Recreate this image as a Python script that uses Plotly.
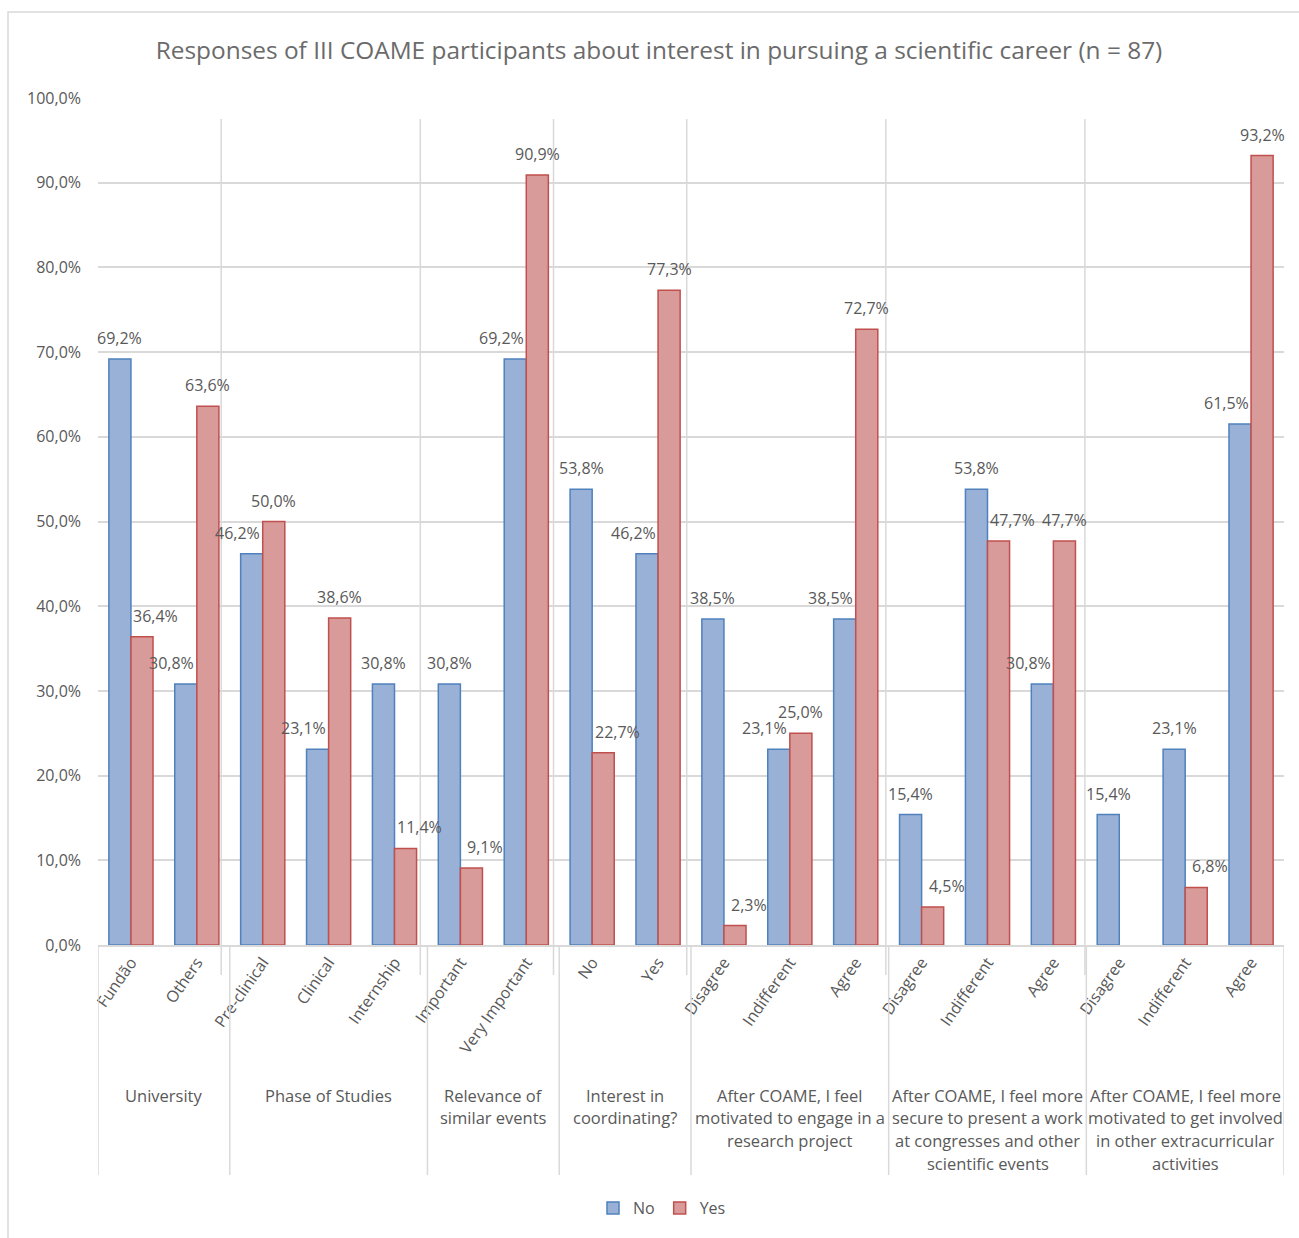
import plotly.graph_objects as go

# ---- data -------------------------------------------------------------
groups = [
    "University",
    "Phase of Studies",
    "Relevance of\nsimilar events",
    "Interest in\ncoordinating?",
    "After COAME, I feel\nmotivated to engage in a\nresearch project",
    "After COAME, I feel more\nsecure to present a work\nat congresses and other\nscientific events",
    "After COAME, I feel more\nmotivated to get involved\nin other extracurricular\nactivities",
]
group_items = [
    ["Fundão", "Others"],
    ["Pre-clinical", "Clinical", "Internship"],
    ["Important", "Very Important"],
    ["No", "Yes"],
    ["Disagree", "Indifferent", "Agree"],
    ["Disagree", "Indifferent", "Agree"],
    ["Disagree", "Indifferent", "Agree"],
]
no_values = [69.2, 30.8, 46.2, 23.1, 30.8, 30.8, 69.2, 53.8, 46.2,
             38.5, 23.1, 38.5, 15.4, 53.8, 30.8, 15.4, 23.1, 61.5]
yes_values = [36.4, 63.6, 50.0, 38.6, 11.4, 9.1, 90.9, 22.7, 77.3,
              2.3, 25.0, 72.7, 4.5, 47.7, 47.7, None, 6.8, 93.2]

# ---- geometry ---------------------------------------------------------
W, H = 1299, 1238
L, R, T, B = 98, 15, 98, 293
PW, PH = W - L - R, H - T - B
GRID = "#d9d9d9"
TXT = "#595959"
FONT = "Open Sans, Noto Sans, DejaVu Sans, sans-serif"
BARGAP = 0.33
NUDGE = 14  # px a value label slides away from a taller neighbouring bar


def px_x(p):
    return (p - L) / PW


def px_y(p):
    return (H - B - p) / PH


n = len(no_values)
xs = list(range(n))
tick_text = [item for items in group_items for item in items]

series = [
    ("No", no_values, "#9ab1d7", "#4f81bd"),
    ("Yes", yes_values, "#d99a9a", "#c0504d"),
]

fig = go.Figure()
for name, vals, fill, edge in series:
    fig.add_trace(go.Bar(
        name=name, x=xs, y=vals,
        marker=dict(color=fill, line=dict(color=edge, width=1.5)),
    ))

shapes = []
annotations = []

# value labels above every bar, pushed sideways when the other bar is taller
bar_w = (1 - BARGAP) / len(series)
for si, (name, vals, fill, edge) in enumerate(series):
    shift = (si - (len(series) - 1) / 2) * bar_w
    other = series[1 - si][1]
    direction = -1 if si == 0 else 1
    for i, v in enumerate(vals):
        if v is None:
            continue
        o = other[i] if other[i] is not None else 0
        nudge = direction * NUDGE if o > v else 0
        annotations.append(dict(
            x=i + shift, y=v, xref="x", yref="y",
            text=f"{v:.1f}%".replace(".", ","), showarrow=False,
            xanchor="center", yanchor="middle", yshift=21, xshift=nudge,
            font=dict(color=TXT, size=16, family=FONT)))

# group dividers below the category axis, plus guide lines in the plot
start = 0
bounds = [-0.5]
for items in group_items:
    start += len(items)
    bounds.append(start - 0.5)
for i, b in enumerate(bounds):
    shapes.append(dict(type="line", xref="x", yref="paper", x0=b, x1=b,
                       y0=0, y1=px_y(1175), line=dict(color=GRID, width=1.5)))
    if 0 < i < len(bounds) - 1:
        off = 0.13 * (len(bounds) - 1 - i) / (len(bounds) - 2)
        shapes.append(dict(type="line", xref="x", yref="paper",
                           x0=b - off, x1=b - off, y0=px_y(975), y1=px_y(119),
                           line=dict(color=GRID, width=1.5), layer="below"))

# outer chart border
shapes.append(dict(type="rect", xref="paper", yref="paper",
                   x0=px_x(8), x1=px_x(1320), y0=px_y(1260), y1=px_y(12),
                   line=dict(color=GRID, width=1.5), layer="below"))

# group labels, one line at a time
for gi, g in enumerate(groups):
    center = (bounds[gi] + bounds[gi + 1]) / 2
    for li, line in enumerate(g.split("\n")):
        annotations.append(dict(
            x=center, xref="x", yref="paper", y=px_y(1095 + li * 22.7),
            text=line, showarrow=False, xanchor="center", yanchor="middle",
            font=dict(color=TXT, size=16.5, family=FONT)))

fig.update_layout(
    width=W, height=H,
    margin=dict(l=L, r=R, t=T, b=B),
    paper_bgcolor="white", plot_bgcolor="white",
    separators=",.",
    barmode="group", bargap=BARGAP, bargroupgap=0,
    title=dict(text="Responses of III COAME participants about interest in pursuing a scientific career (n = 87)",
               x=659 / W, xref="container", xanchor="center",
               y=1 - 50 / H, yref="container", yanchor="middle",
               font=dict(color="#6b6b6b", size=24.4, family=FONT)),
    font=dict(family=FONT, color=TXT),
    xaxis=dict(
        tickmode="array", tickvals=xs, ticktext=tick_text, tickangle=-55,
        range=[-0.5, n - 0.5], showgrid=False, zeroline=False,
        showline=True, linecolor=GRID, linewidth=1.5,
        ticks="", tickfont=dict(color=TXT, size=16, family=FONT),
    ),
    yaxis=dict(
        range=[0, 100], dtick=10, tickformat=".1f", ticksuffix="%",
        showgrid=True, gridcolor=GRID, gridwidth=1.5, zeroline=False,
        showline=False, ticks="", ticklabelstandoff=16,
        tickfont=dict(color=TXT, size=16, family=FONT),
    ),
    legend=dict(orientation="h", x=px_x(662), xanchor="center",
                y=px_y(1208), yanchor="middle",
                font=dict(color=TXT, size=16, family=FONT),
                itemwidth=30, tracegroupgap=0),
    shapes=shapes, annotations=annotations,
)

fig.write_html("out.html")
